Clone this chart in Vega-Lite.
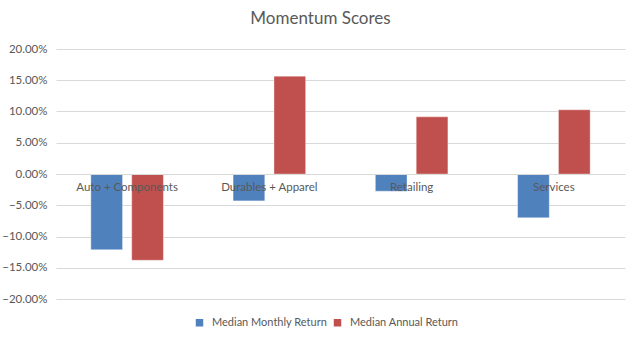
{
  "$schema": "https://vega.github.io/schema/vega-lite/v6.json",
  "autosize": "none",
  "width": 569,
  "height": 250,
  "padding": {"left": 56, "top": 49, "right": 15, "bottom": 44},
  "background": "white",
  "title": {
    "text": "Momentum Scores",
    "anchor": "middle",
    "frame": "group",
    "dx": -20,
    "offset": 15,
    "fontSize": 17,
    "fontWeight": "normal",
    "font": "Lato",
    "color": "#595959"
  },
  "data": {
    "values": [
      {"category": "Auto + Components", "series": "Median Monthly Return", "value": -0.121},
      {"category": "Auto + Components", "series": "Median Annual Return", "value": -0.138},
      {"category": "Durables + Apparel", "series": "Median Monthly Return", "value": -0.043},
      {"category": "Durables + Apparel", "series": "Median Annual Return", "value": 0.1565},
      {"category": "Retailing", "series": "Median Monthly Return", "value": -0.0275},
      {"category": "Retailing", "series": "Median Annual Return", "value": 0.0915},
      {"category": "Services", "series": "Median Monthly Return", "value": -0.070},
      {"category": "Services", "series": "Median Annual Return", "value": 0.1027}
    ]
  },
  "mark": {"type": "bar", "stroke": "white", "strokeOpacity": 0.35, "strokeWidth": 1},
  "encoding": {
    "x": {
      "field": "category",
      "type": "nominal",
      "sort": null,
      "scale": {"paddingInner": 0.49, "paddingOuter": 0.245},
      "axis": {
        "title": null,
        "labelAngle": 0,
        "offset": -125,
        "ticks": false,
        "domain": true,
        "domainColor": "#d9d9d9",
        "labelPadding": 7,
        "labelFont": "Lato",
        "labelFontSize": 11.5,
        "labelColor": "#595959",
        "zindex": 1
      }
    },
    "xOffset": {
      "field": "series",
      "type": "nominal",
      "sort": ["Median Monthly Return", "Median Annual Return"],
      "scale": {"paddingInner": 0.225, "paddingOuter": 0}
    },
    "y": {
      "field": "value",
      "type": "quantitative",
      "scale": {"domain": [-0.2, 0.2], "nice": false},
      "axis": {
        "title": null,
        "format": ".2%",
        "values": [-0.2, -0.15, -0.1, -0.05, 0, 0.05, 0.1, 0.15, 0.2],
        "domain": false,
        "ticks": false,
        "gridColor": "#d9d9d9",
        "labelPadding": 9,
        "labelFont": "Lato",
        "labelFontSize": 11.5,
        "labelColor": "#595959"
      }
    },
    "color": {
      "field": "series",
      "type": "nominal",
      "sort": ["Median Monthly Return", "Median Annual Return"],
      "scale": {"domain": ["Median Monthly Return", "Median Annual Return"], "range": ["#4F81BD", "#C0504D"]},
      "legend": {
        "title": null,
        "orient": "none",
        "direction": "horizontal",
        "legendX": 138,
        "legendY": 268,
        "symbolType": "square",
        "symbolSize": 56,
        "symbolStrokeWidth": 0,
        "labelFont": "Lato",
        "labelFontSize": 11,
        "labelColor": "#595959",
        "columnPadding": 4,
        "labelOffset": 7
      }
    }
  },
  "config": {
    "view": {"stroke": null}
  }
}
